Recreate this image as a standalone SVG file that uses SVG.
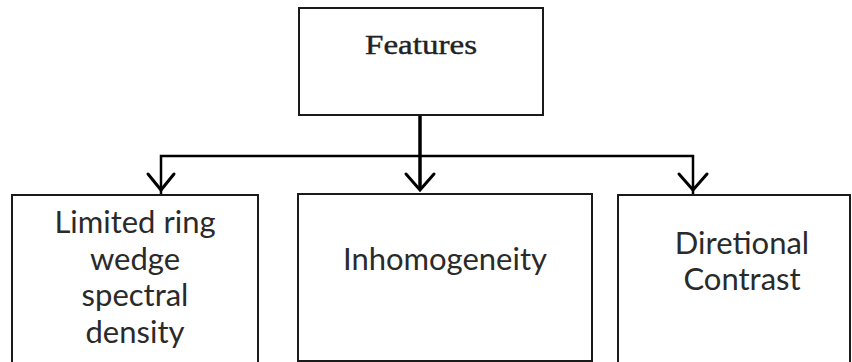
<svg xmlns="http://www.w3.org/2000/svg" width="852" height="362" viewBox="0 0 852 362">
  <style>
    .box { fill: #ffffff; stroke: #1a1a1a; stroke-width: 2; }
    .wire { fill: none; stroke: #000000; stroke-width: 2.5; }
    .head { fill: none; stroke: #000000; stroke-width: 3; stroke-linecap: round; stroke-linejoin: miter; }
    .serif { font-family: "Liberation Serif", "DejaVu Serif", serif; font-size: 28px; fill: #222222; stroke: #222222; stroke-width: 0.4; text-anchor: middle; }
    .label { font-family: Lato, "Open Sans", "Liberation Sans", sans-serif; font-size: 31px; fill: #2a2a2a; text-anchor: middle; }
  </style>
  <rect width="852" height="362" fill="#ffffff"/>

  <g id="connectors">
    <line class="wire" x1="420" y1="115" x2="420" y2="190" style="stroke-width:3.5"/>
    <polyline class="wire" points="161,194 161,156 693,156 693,194"/>
    <polyline class="head" points="148,174 161,190 174,174"/>
    <polyline class="head" points="406,174 420,190 434,174"/>
    <polyline class="head" points="679,174 693,190 707,174"/>
  </g>

  <g id="features">
    <rect class="box" x="299" y="8" width="244" height="107"/>
    <text class="serif" x="421" y="54" textLength="112" lengthAdjust="spacingAndGlyphs">Features</text>
  </g>

  <g id="spectral-density">
    <rect class="box" x="12" y="195" width="246" height="170"/>
    <text class="label" x="135" y="233">Limited ring</text>
    <text class="label" x="135" y="270">wedge</text>
    <text class="label" x="135" y="306">spectral</text>
    <text class="label" x="135" y="343">density</text>
  </g>

  <g id="inhomogeneity">
    <rect class="box" x="298" y="194" width="294" height="167"/>
    <text class="label" x="445" y="270">Inhomogeneity</text>
  </g>

  <g id="directional-contrast">
    <rect class="box" x="618" y="195" width="232" height="170"/>
    <text class="label" x="742" y="254">Diretional</text>
    <text class="label" x="742" y="290">Contrast</text>
  </g>
</svg>
